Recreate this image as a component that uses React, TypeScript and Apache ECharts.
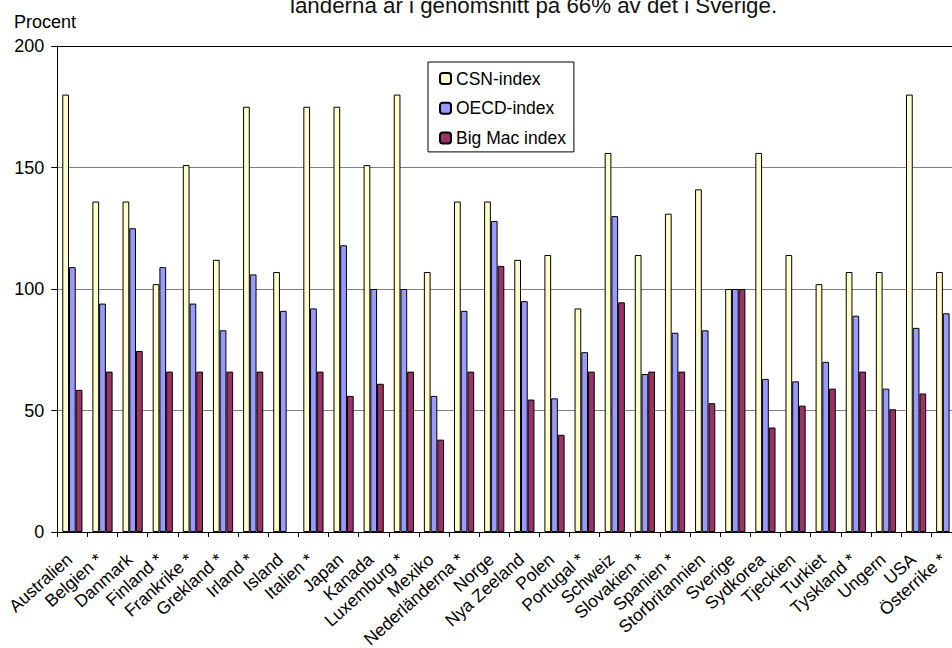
import React, { useEffect, useRef } from "react";
import * as echarts from "echarts";

const categories = [
  "Australien", "Belgien *", "Danmark", "Finland *", "Frankrike *", "Grekland *",
  "Irland *", "Island", "Italien *", "Japan", "Kanada", "Luxemburg *", "Mexiko",
  "Nederländerna *", "Norge", "Nya Zeeland", "Polen", "Portugal *", "Schweiz",
  "Slovakien *", "Spanien *", "Storbritannien", "Sverige", "Sydkorea", "Tjeckien",
  "Turkiet", "Tyskland *", "Ungern", "USA", "Österrike *",
];

const csnIndex = [
  180, 136, 136, 102, 151, 112, 175, 107, 175, 175, 151, 180, 107, 136, 136,
  112, 114, 92, 156, 114, 131, 141, 100, 156, 114, 102, 107, 107, 180, 107,
];

const oecdIndex = [
  109, 94, 125, 109, 94, 83, 106, 91, 92, 118, 100, 100, 56, 91, 128,
  95, 55, 74, 130, 65, 82, 83, 100, 63, 62, 70, 89, 59, 84, 90,
];

const bigMacIndex = [
  58.5, 66, 74.5, 66, 66, 66, 66, null, 66, 56, 61, 66, 38, 66, 109.5,
  54.5, 40, 66, 94.5, 66, 66, 53, 100, 43, 52, 59, 66, 50.5, 57, null,
];

const seriesNames = ["CSN-index", "OECD-index", "Big Mac index"];
const seriesColors = ["#FFFFCC", "#9999FF", "#993366"];
const yTicks = [0, 50, 100, 150, 200];

const titleText = "länderna är i genomsnitt på 66% av det i Sverige.";
const yAxisTitle = "Procent";

const FONT = "'Liberation Sans', Arial, sans-serif";

export default function App() {
  const ref = useRef<HTMLDivElement>(null);

  useEffect(() => {
    if (!ref.current) return;
    const chart = echarts.init(ref.current, null, { renderer: "svg" });
    const seriesData = [csnIndex, oecdIndex, bigMacIndex];
    chart.setOption({
      animation: false,
      backgroundColor: "#ffffff",
      textStyle: { fontFamily: FONT },
      graphic: [
        {
          type: "text",
          left: 290,
          y: 5,
          style: {
            text: titleText,
            font: `22.3px ${FONT}`,
            fill: "#111",
            verticalAlign: "middle",
          },
        },
        {
          type: "text",
          left: 14,
          y: 22,
          style: {
            text: yAxisTitle,
            font: `18px ${FONT}`,
            fill: "#000",
            verticalAlign: "middle",
          },
        },
      ],
      legend: {
        orient: "vertical",
        left: 428,
        top: 62,
        data: seriesNames,
        itemWidth: 11,
        itemHeight: 11,
        itemGap: 11.7,
        padding: [7.5, 8, 5, 11],
        borderColor: "#000",
        borderWidth: 1,
        backgroundColor: "#fff",
        textStyle: { fontSize: 17.5, color: "#000", fontFamily: FONT, lineHeight: 18 },
      },
      grid: { left: 57.3, top: 46, width: 904, height: 486, outerBoundsMode: "none", containLabel: false },
      xAxis: {
        type: "category",
        data: categories,
        boundaryGap: true,
        axisLine: { show: true, lineStyle: { color: "#000", width: 1 } },
        axisTick: { show: true, length: 5, lineStyle: { color: "#000" } },
        axisLabel: {
          interval: 0,
          rotate: 42,
          margin: 22,
          padding: [0, 4, 0, 0],
          fontSize: 17.5,
          color: "#000",
          fontFamily: FONT,
        },
      },
      yAxis: {
        type: "value",
        min: 0,
        max: 200,
        interval: 50,
        axisLine: { show: true, lineStyle: { color: "#000", width: 1 } },
        axisTick: { show: true, length: 6, lineStyle: { color: "#000" } },
        axisLabel: {
          margin: 13,
          fontSize: 18,
          color: "#000",
          fontFamily: FONT,
          customValues: yTicks,
        },
        splitLine: {
          show: true,
          lineStyle: { color: ["#000", "#808080", "#808080", "#808080", "#000"], width: 1 },
        },
      },
      series: seriesNames.map((name, i) => ({
        name,
        type: "bar",
        data: seriesData[i],
        barGap: "0%",
        barCategoryGap: "33%",
        itemStyle: { color: seriesColors[i], borderColor: "#000", borderWidth: 1 },
      })),
    });
    return () => chart.dispose();
  }, []);

  return (
    <div
      ref={ref}
      style={{ position: "absolute", left: 0, top: 0, width: 952, height: 648, overflow: "hidden" }}
    />
  );
}
